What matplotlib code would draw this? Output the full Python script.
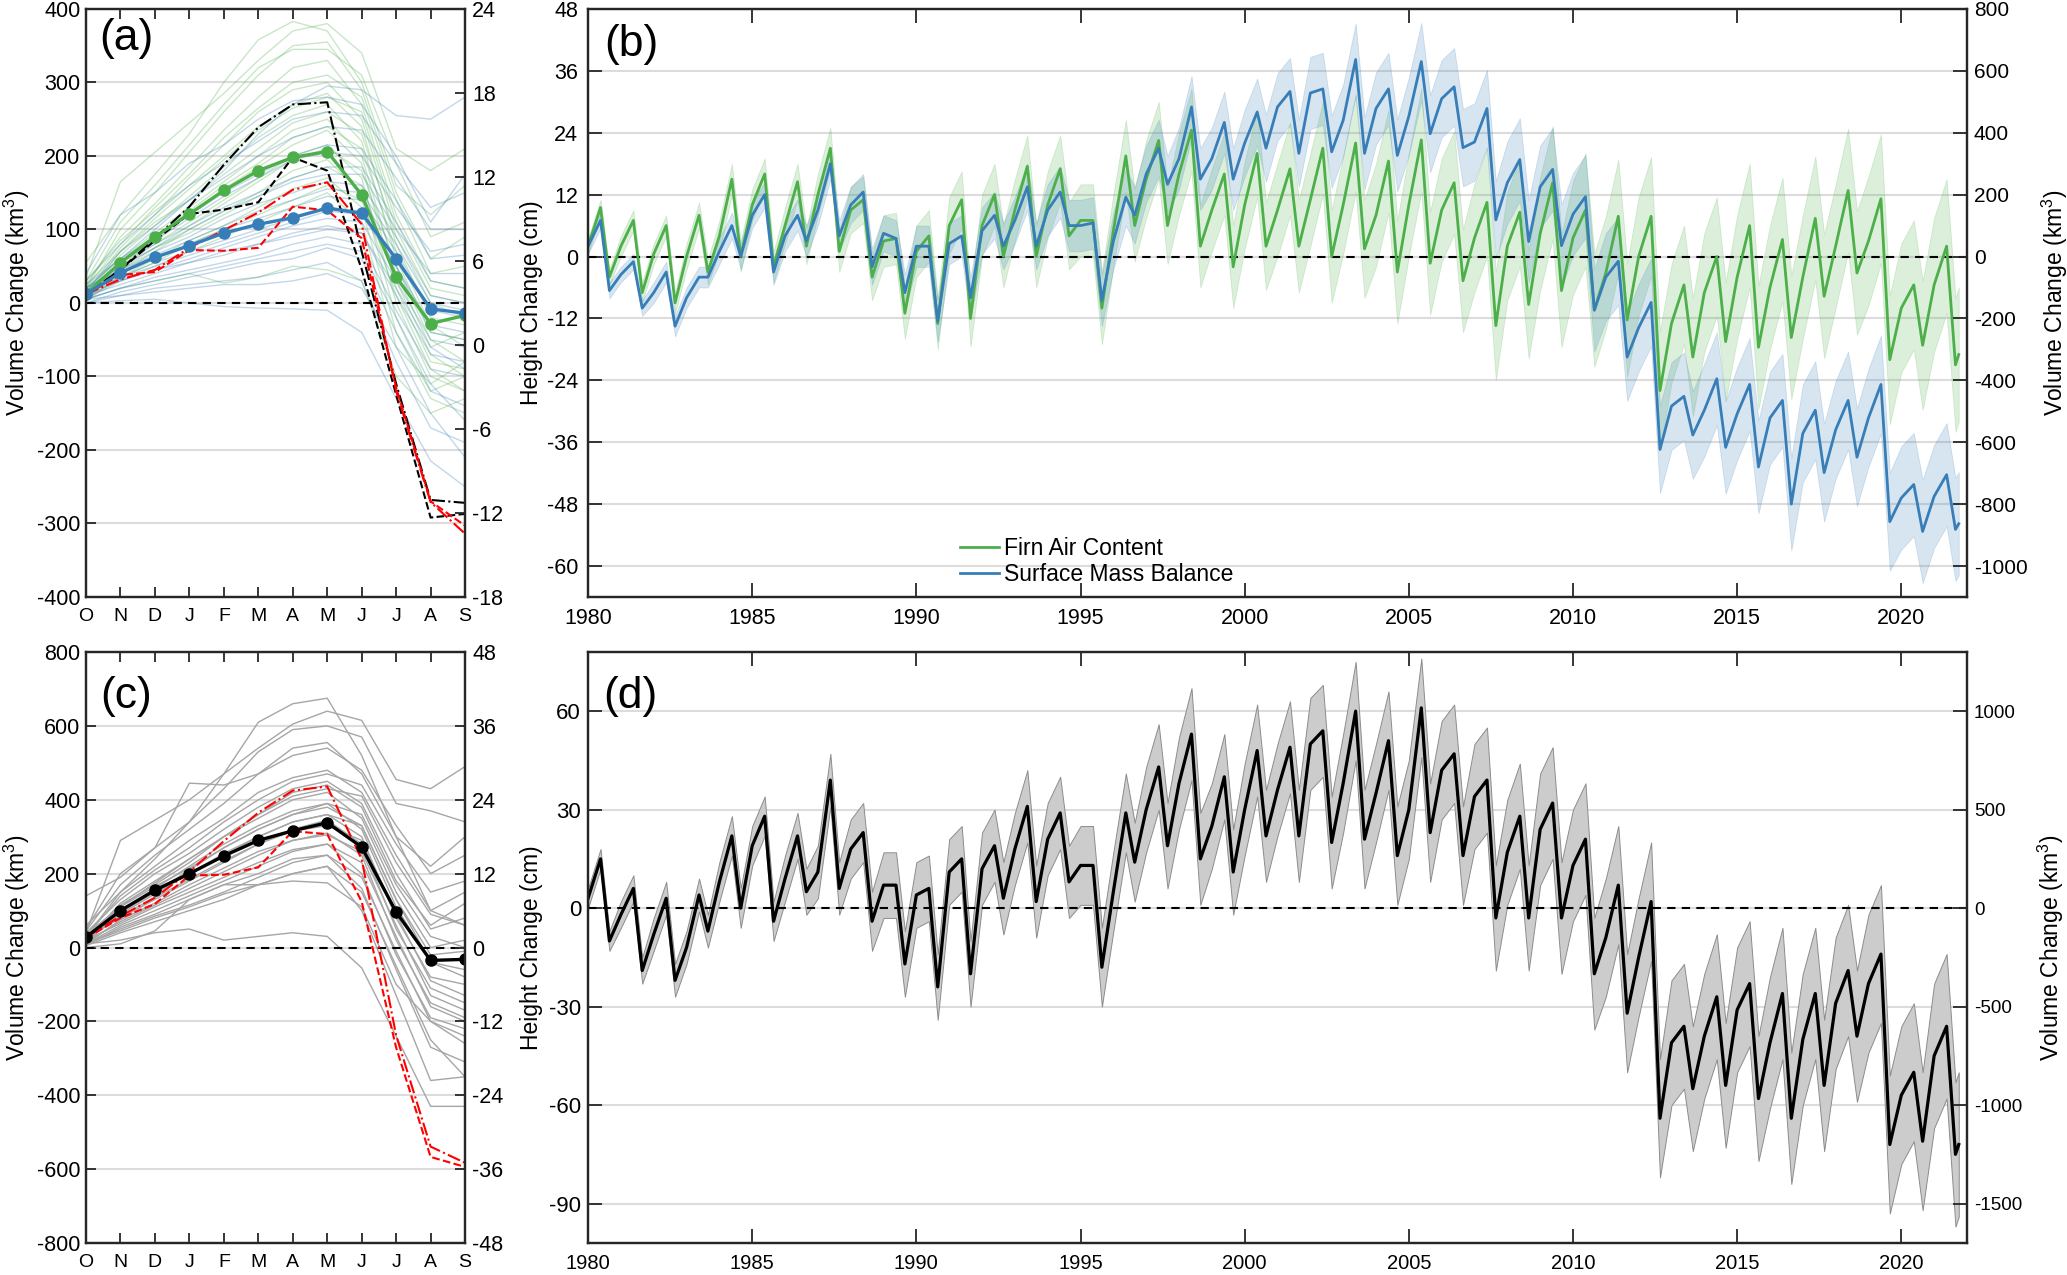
import matplotlib
matplotlib.use("Agg")
import matplotlib.pyplot as plt
import numpy as np

plt.rcParams["font.family"] = ["Liberation Sans", "DejaVu Sans"]
plt.rcParams["mathtext.fontset"] = "custom"
plt.rcParams["mathtext.rm"] = "Liberation Sans"
plt.rcParams["mathtext.it"] = "Liberation Sans:italic"
plt.rcParams["axes.unicode_minus"] = False

GREEN = "#4daf4a"
BLUE = "#377eb8"
SPINE = "#262626"

# ---------------------------------------------------------------
# Monthly climatology panels (a) and (c), km3 since 1 October
# ---------------------------------------------------------------
months = ["O", "N", "D", "J", "F", "M", "A", "M", "J", "J", "A", "S"]

fac_mean = [12, 55, 90, 121, 153, 180, 198, 206, 147, 35, -28, -17]
smb_mean = [12, 41, 62, 78, 95, 107, 116, 129, 122, 60, -8, -14]
a_black_dashdot = [12, 45, 88, 131, 188, 239, 270, 273, 70, -110, -268, -272]
a_black_dashed = [12, 45, 85, 121, 127, 137, 198, 180, 46, -125, -292, -287]
a_red_dashdot = [12, 32, 45, 75, 99, 123, 154, 164, 107, -120, -271, -314]
a_red_dashed = [12, 38, 42, 72, 71, 75, 131, 126, 88, -115, -270, -303]

fac_years = [
    [35, 165, 205, 245, 285, 330, 370, 380, 340, 210, 180, 210],
    [55, 120, 175, 230, 300, 358, 383, 370, 300, 160, 120, 160],
    [20, 100, 150, 205, 260, 310, 350, 355, 290, 150, 60, 90],
    [30, 110, 160, 215, 270, 320, 345, 345, 310, 190, 90, 110],
    [25, 90, 135, 185, 235, 280, 320, 330, 270, 120, 30, 20],
    [20, 80, 130, 175, 225, 265, 300, 310, 280, 140, 40, 50],
    [15, 75, 120, 170, 215, 260, 290, 300, 250, 100, 10, 0],
    [10, 70, 115, 155, 195, 235, 265, 280, 260, 110, 20, 10],
    [30, 85, 125, 160, 200, 240, 270, 285, 240, 80, -20, -30],
    [25, 70, 110, 140, 175, 210, 245, 260, 230, 90, 0, -20],
    [10, 65, 105, 145, 185, 225, 255, 270, 220, 60, -40, -50],
    [20, 60, 95, 130, 165, 200, 235, 250, 200, 40, -60, -40],
    [15, 55, 90, 125, 160, 190, 225, 240, 210, 70, -30, -60],
    [5, 50, 85, 120, 155, 185, 215, 235, 190, 20, -80, -90],
    [5, 45, 75, 105, 135, 165, 195, 210, 180, 50, -50, -80],
    [15, 55, 80, 110, 140, 170, 200, 215, 170, 0, -100, -120],
    [20, 50, 75, 95, 120, 145, 170, 185, 160, 30, -70, -100],
    [10, 40, 70, 100, 125, 150, 180, 195, 150, -20, -120, -100],
    [10, 35, 55, 80, 100, 120, 140, 160, 140, 10, -90, -120],
    [5, 35, 60, 85, 105, 130, 155, 170, 130, -40, -130, -150],
    [10, 30, 50, 70, 90, 110, 130, 150, 110, -60, -110, -80],
    [5, 20, 30, 40, 27, 35, 50, 45, 30, -100, -150, -130],
]

smb_years = [
    [20, 60, 100, 140, 180, 230, 270, 295, 290, 255, 250, 280],
    [40, 120, 150, 190, 215, 250, 275, 280, 270, 200, 110, 175],
    [30, 80, 120, 160, 190, 220, 250, 260, 255, 190, 130, 150],
    [15, 70, 105, 140, 170, 200, 225, 240, 235, 170, 100, 100],
    [25, 60, 90, 120, 150, 175, 200, 215, 210, 140, 60, 65],
    [15, 55, 85, 115, 145, 170, 195, 205, 200, 130, 70, 80],
    [10, 50, 80, 105, 130, 150, 170, 185, 185, 110, 30, 20],
    [20, 50, 75, 100, 125, 145, 165, 175, 175, 100, 40, 40],
    [20, 45, 70, 90, 115, 135, 150, 165, 160, 90, 10, 0],
    [10, 45, 65, 85, 105, 125, 140, 155, 150, 80, 0, -10],
    [10, 40, 60, 80, 100, 115, 130, 145, 140, 70, -10, -20],
    [15, 35, 55, 70, 85, 100, 115, 130, 125, 50, -30, -40],
    [5, 35, 50, 65, 80, 95, 110, 125, 120, 50, -40, -50],
    [5, 30, 45, 60, 75, 90, 105, 115, 110, 30, -50, -60],
    [10, 25, 40, 55, 65, 80, 95, 105, 95, 10, -70, -80],
    [15, 30, 45, 55, 70, 80, 90, 100, 95, 20, -60, -90],
    [5, 20, 35, 45, 55, 65, 80, 90, 80, -10, -90, -100],
    [5, 20, 30, 40, 50, 60, 70, 80, 70, -20, -110, -160],
    [0, 15, 25, 35, 45, 55, 60, 75, 60, -40, -120, -140],
    [5, 10, 20, 25, 30, 35, 45, 55, 30, -80, -170, -190],
    [0, 10, 15, 20, 25, 25, 30, 40, 20, -60, -150, -210],
    [0, 3, 5, 0, -5, -7, -8, -10, -40, -130, -215, -250],
]

tot_mean = [28, 100, 155, 200, 248, 290, 316, 338, 272, 96, -35, -32]
c_red_dashdot = [28, 85, 135, 205, 288, 365, 425, 436, 239, -238, -539, -583]
c_red_dashed = [25, 80, 118, 195, 197, 217, 315, 307, 124, -271, -567, -594]

tot_years = [
    [60, 150, 240, 340, 470, 610, 660, 675, 520, 300, 100, 60],
    [40, 290, 345, 400, 470, 540, 605, 640, 615, 455, 430, 490],
    [50, 200, 270, 340, 430, 530, 590, 600, 570, 390, 370, 340],
    [140, 190, 270, 445, 440, 470, 540, 555, 470, 300, 220, 300],
    [45, 170, 250, 320, 390, 470, 520, 540, 480, 330, 200, 250],
    [30, 150, 220, 290, 350, 420, 460, 480, 420, 250, 100, 150],
    [30, 140, 210, 270, 340, 400, 450, 470, 440, 280, 150, 180],
    [40, 130, 200, 255, 320, 380, 430, 450, 390, 200, 50, 80],
    [35, 110, 175, 240, 300, 360, 420, 440, 380, 180, 60, 120],
    [20, 120, 180, 240, 300, 360, 410, 430, 410, 230, 90, 60],
    [20, 115, 170, 230, 300, 350, 400, 420, 350, 150, 0, 20],
    [35, 110, 165, 215, 270, 320, 360, 390, 360, 170, 30, 0],
    [30, 100, 160, 220, 280, 330, 370, 390, 320, 110, -40, -60],
    [20, 95, 150, 210, 270, 320, 360, 380, 330, 130, -20, -10],
    [20, 90, 145, 200, 255, 300, 340, 360, 300, 80, -80, -100],
    [15, 95, 150, 200, 250, 300, 340, 360, 330, 130, -40, -80],
    [25, 80, 130, 180, 230, 280, 320, 345, 280, 50, -110, -150],
    [25, 85, 135, 185, 235, 280, 315, 330, 290, 90, -90, -130],
    [15, 70, 115, 160, 205, 250, 290, 310, 250, 20, -150, -190],
    [10, 75, 120, 170, 215, 260, 290, 305, 260, 60, -130, -170],
    [10, 60, 100, 140, 180, 220, 260, 280, 200, -20, -190, -220],
    [20, 65, 110, 150, 190, 230, 265, 280, 230, 30, -160, -200],
    [10, 50, 85, 115, 150, 190, 230, 250, 160, -60, -270, -310],
    [5, 55, 90, 130, 170, 200, 240, 250, 190, -10, -200, -260],
    [5, 40, 70, 100, 130, 170, 200, 220, 100, -130, -360, -350],
    [10, 45, 80, 110, 145, 170, 200, 220, 150, -50, -250, -350],
    [10, 20, 40, 50, 20, 30, 40, 30, -55, -240, -430, -430],
    [0, 10, 45, 130, 170, 170, 180, 175, 110, -100, -200, -240],
]

# ---------------------------------------------------------------
# Time series panels (b) and (d), cm; read as Jan / spring peak /
# late-summer minimum for every year 1980-2021
# ---------------------------------------------------------------
hydro_years = list(range(1980, 2022))
JAN_T, PEAK_T, LOW_T = 0.0, 0.38, 0.65
END_T = 2021.75

fac_jan = [2, 2, 0.5, 0, 4, 10, 6, 12, 9, 3, 1, 6, 6, 9, 10, 7, 5, 15, 16, 9, 10,
           9, 11, 10, 8, 10, 9, 3.6, 2, 4.4, 3.6, -3.2, 0, -13, -7, -4, -6, -4, 2, 3, -10, -5.5]
fac_peak = [9.5, 7, 6, 8, 15, 16, 14.5, 21, 11, 3.5, 4, 11, 12, 17.5, 17, 7, 19.5, 22.5, 24.5, 16, 20,
            17, 21, 22, 18.5, 22.6, 14.3, 10.5, 8.6, 14.3, 9, 7.8, 7.8, -5.5, 0, 6, 3.3, 7.4, 12.8, 11.2, -5.5, 2]
fac_low = [-4, -7, -9, -3, 0, -2, 2, 1, -4, -11, -13, -12, 0, 0, 4, -10, 6, 6, 2, -2, 2,
           2, 0, 1.5, -3, -1.3, -4.7, -13.4, -9.3, -6.6, -10.4, -12.3, -26, -19.5, -16.5, -17.6, -15.7, -7.7, -3.2, -20, -17.2, -21]
fac_end = -19
fac_err = [1.5, 2, 2, 2.5, 3, 3, 3.5, 4, 4.5, 5, 5, 5.5, 6, 6, 6.5, 7, 7, 7.5, 8, 8, 8.5,
           9, 9, 9.5, 10, 10, 10, 10.5, 10.5, 11, 11, 11, 11.5, 11.5, 11.5, 12, 12, 12, 12, 12.5, 12.5, 13]

smb_jan = [2, -3.5, -7, -8, 1, 8, 4, 9, 10, 4.5, 2, 2.5, 5, 7, 9, 6, 3, 16, 19, 19, 22,
           29, 31.7, 26.4, 28.7, 27.2, 30.6, 22.2, 14.3, 13.5, 8.2, -4, -13.8, -29, -29.8, -30.5, -31.3, -34.3, -33.6, -31.3, -46.8, -46.5]
smb_peak = [7, -1, -3, -4, 6, 12, 8, 18, 12.5, 3.5, 2, 4, 8, 13.5, 12.5, 6.5, 11.5, 21, 29, 26, 28,
            32, 32.5, 38.2, 32.5, 37.8, 32.9, 28.7, 18.8, 16.9, 11.6, -0.9, -8.9, -27.1, -23.7, -24.8, -27.9, -29.8, -27.9, -24.8, -44.2, -42.3]
smb_low = [-6.6, -10, -13.5, -4, 0, -3, 3, 4, -2, -7, -12.5, -8, 2, 2, 6, -8.5, 8, 14, 15, 15, 21,
           20, 20.3, 20, 19.6, 23.8, 21.1, 7.1, 2.9, 2.1, -10.4, -19.5, -37.4, -34.6, -37, -40.8, -48, -41.9, -38.9, -51.4, -53.3, -52.9]
smb_end = -51.8
smb_err = [1.5, 1.5, 2, 2, 2.5, 2.5, 3, 3, 3.5, 3.5, 4, 4, 4.5, 4.5, 5, 5, 5.5, 5.5, 6, 6, 6.5,
           6.5, 7, 7, 7, 7.5, 7.5, 7.5, 8, 8, 8, 8.5, 8.5, 8.5, 9, 9, 9, 9.5, 9.5, 9.5, 10, 10]

tot_jan = [3, -2, -8, -12, 8, 19, 9, 11, 18, 7, 4, 11, 12, 18, 21, 13, 5, 30, 38, 25, 30,
           36, 50, 38, 35, 30, 42, 34, 17, 24, 13, -9, -15, -41, -39, -31, -41, -40, -29, -23, -57, -45]
tot_peak = [15, 6, 3, 4, 22, 28, 22, 39, 23, 7, 6, 15, 19, 31, 29, 13, 29, 43, 53, 40, 48,
            49, 54, 60, 51, 61, 47, 39, 28, 32, 21, 7, 2, -36, -27, -23, -26, -26, -19, -14, -50, -36]
tot_low = [-10, -19, -22, -7, 0, -4, 5, 6, -4, -17, -24, -20, 3, 2, 8, -18, 14, 19, 15, 11, 22,
           22, 20, 21, 16, 23, 16, -3, -3, -3, -20, -32, -64, -55, -54, -58, -64, -54, -39, -72, -71, -75]
tot_end = -72
tot_err = [3, 4, 5, 5, 6, 6, 7, 8, 9, 10, 10, 10, 11, 11, 11, 12, 12, 13, 14, 13, 14,
           14, 14, 15, 15, 15, 15, 16, 16, 17, 17, 18, 18, 19, 19, 19, 20, 20, 20, 21, 21, 22]


def build_series(jan, peak, low, end, err):
    t, v, e = [], [], []
    for i, yr in enumerate(hydro_years):
        t += [yr + JAN_T, yr + PEAK_T, yr + LOW_T]
        v += [jan[i], peak[i], low[i]]
        e += [err[i]] * 3
    t.append(END_T)
    v.append(end)
    e.append(err[-1])
    return np.array(t), np.array(v), np.array(e)


def style_axes(ax, tick_len, xsize, ysize, ypad):
    ax.tick_params(axis="both", direction="in", length=tick_len, width=1.3, color=SPINE)
    ax.tick_params(axis="x", top=True, bottom=True, labelsize=xsize, pad=8)
    ax.tick_params(axis="y", left=True, right=False, labelsize=ysize, pad=ypad)
    for s in ax.spines.values():
        s.set_linewidth(1.6)
        s.set_color(SPINE)
    ax.yaxis.grid(True, color="#dcdcdc", lw=1.5)
    ax.set_axisbelow(True)


def right_axis(ax, lim, ticks, tick_len, size):
    ax2 = ax.twinx()
    ax2.set_ylim(*lim)
    ax2.set_yticks(ticks)
    ax2.set_yticklabels([str(v) for v in ticks])
    ax2.tick_params(axis="y", direction="in", length=tick_len, width=1.3, color=SPINE,
                    labelsize=size, pad=5)
    for s in ax2.spines.values():
        s.set_linewidth(1.6)
        s.set_color(SPINE)
    return ax2


fig = plt.figure(figsize=(20.67, 12.75), dpi=100)
ax_a = fig.add_axes([0.0416, 0.5318, 0.1834, 0.4612])
ax_b = fig.add_axes([0.2845, 0.5318, 0.6671, 0.4612])
ax_c = fig.add_axes([0.0416, 0.0251, 0.1834, 0.4635])
ax_d = fig.add_axes([0.2845, 0.0251, 0.6671, 0.4635])

mx = np.arange(len(months))

# ---- (a)
for row in fac_years:
    ax_a.plot(mx, row, color=GREEN, alpha=0.3, lw=1.0)
for row in smb_years:
    ax_a.plot(mx, row, color=BLUE, alpha=0.3, lw=1.0)
ax_a.axhline(0, color="k", ls="--", lw=1.5, dashes=(4, 3))
ax_a.plot(mx, a_black_dashdot, color="k", ls="-.", lw=1.5)
ax_a.plot(mx, a_black_dashed, color="k", ls="--", lw=1.5)
ax_a.plot(mx, a_red_dashdot, color="red", ls="-.", lw=1.5)
ax_a.plot(mx, a_red_dashed, color="red", ls="--", lw=1.5)
ax_a.plot(mx, fac_mean, color=GREEN, lw=2.4, marker="o", ms=8)
ax_a.plot(mx, smb_mean, color=BLUE, lw=2.4, marker="o", ms=8)
ax_a.set_xlim(0, 11)
ax_a.set_ylim(-400, 400)
ticks_a = list(range(-400, 401, 100))
ax_a.set_yticks(ticks_a)
ax_a.set_yticklabels([str(v) for v in ticks_a])
ax_a.set_xticks(mx)
ax_a.set_xticklabels(months)
style_axes(ax_a, 7, 14, 15.5, 4)
ax_a.set_ylabel("Volume Change (km$^3$)", fontsize=16.5)
ax_a.yaxis.set_label_coords(-0.142, 0.5)
right_axis(ax_a, (-18, 24), list(range(-18, 25, 6)), 7, 15.5)
ax_a.text(0.035, 0.985, "(a)", transform=ax_a.transAxes, fontsize=32, va="top")

# ---- (b)
t, fac_v, fac_e = build_series(fac_jan, fac_peak, fac_low, fac_end, fac_err)
_, smb_v, smb_e = build_series(smb_jan, smb_peak, smb_low, smb_end, smb_err)
ax_b.fill_between(t, fac_v - fac_e, fac_v + fac_e, facecolor=GREEN, alpha=0.2,
                  edgecolor=GREEN, lw=0.6)
ax_b.fill_between(t, smb_v - smb_e, smb_v + smb_e, facecolor=BLUE, alpha=0.2,
                  edgecolor=BLUE, lw=0.6)
ax_b.axhline(0, color="k", ls="--", lw=1.5, dashes=(4, 3))
ax_b.plot(t, fac_v, color=GREEN, lw=2.0, label="Firn Air Content")
ax_b.plot(t, smb_v, color=BLUE, lw=2.0, label="Surface Mass Balance")
ax_b.set_xlim(1980, 2022)
ax_b.set_ylim(-66, 48)
ticks_b = list(range(-60, 49, 12))
ax_b.set_yticks(ticks_b)
ax_b.set_yticklabels([str(v) for v in ticks_b])
year_ticks = list(range(1980, 2021, 5))
ax_b.set_xticks(year_ticks)
ax_b.set_xticklabels([str(y) for y in year_ticks])
style_axes(ax_b, 10, 15.5, 15.5, 7)
ax_b.set_ylabel("Height Change (cm)", fontsize=16.5)
ax_b.yaxis.set_label_coords(-0.033, 0.5)
rb = right_axis(ax_b, (-1100, 800), list(range(-1000, 801, 200)), 10, 15)
rb.set_ylabel("Volume Change (km$^3$)", fontsize=16.5)
rb.yaxis.set_label_coords(1.053, 0.5)
ax_b.text(0.012, 0.975, "(b)", transform=ax_b.transAxes, fontsize=32, va="top")
ax_b.legend(loc="lower left", bbox_to_anchor=(0.27, 0.018), frameon=False, fontsize=16.5,
            handlelength=1.7, handletextpad=0.2, labelspacing=0.15, borderpad=0,
            borderaxespad=0)

# ---- (c)
for row in tot_years:
    ax_c.plot(mx, row, color="#a6a6a6", lw=1.0)
ax_c.axhline(0, color="k", ls="--", lw=1.5, dashes=(4, 3))
ax_c.plot(mx, c_red_dashdot, color="red", ls="-.", lw=1.5)
ax_c.plot(mx, c_red_dashed, color="red", ls="--", lw=1.5)
ax_c.plot(mx, tot_mean, color="k", lw=2.4, marker="o", ms=8)
ax_c.set_xlim(0, 11)
ax_c.set_ylim(-800, 800)
ticks_c = list(range(-800, 801, 200))
ax_c.set_yticks(ticks_c)
ax_c.set_yticklabels([str(v) for v in ticks_c])
ax_c.set_xticks(mx)
ax_c.set_xticklabels(months)
style_axes(ax_c, 7, 14, 15.5, 4)
ax_c.set_ylabel("Volume Change (km$^3$)", fontsize=16.5)
ax_c.yaxis.set_label_coords(-0.142, 0.5)
right_axis(ax_c, (-48, 48), list(range(-48, 49, 12)), 7, 15.5)
ax_c.text(0.037, 0.96, "(c)", transform=ax_c.transAxes, fontsize=32, va="top")

# ---- (d)
t, tot_v, tot_e = build_series(tot_jan, tot_peak, tot_low, tot_end, tot_err)
ax_d.fill_between(t, tot_v - tot_e, tot_v + tot_e, facecolor="#cccccc",
                  edgecolor="#8c8c8c", lw=0.7)
ax_d.axhline(0, color="k", ls="--", lw=1.5, dashes=(4, 3))
ax_d.plot(t, tot_v, color="k", lw=2.3)
ax_d.set_xlim(1980, 2022)
ax_d.set_ylim(-102, 78)
ticks_d = list(range(-90, 61, 30))
ax_d.set_yticks(ticks_d)
ax_d.set_yticklabels([str(v) for v in ticks_d])
ax_d.set_xticks(year_ticks)
ax_d.set_xticklabels([str(y) for y in year_ticks])
style_axes(ax_d, 10, 14.5, 16, 5)
ax_d.set_ylabel("Height Change (cm)", fontsize=16.5)
ax_d.yaxis.set_label_coords(-0.033, 0.5)
rd = right_axis(ax_d, (-1700, 1300), list(range(-1500, 1001, 500)), 10, 13.5)
rd.set_ylabel("Volume Change (km$^3$)", fontsize=16.5)
rd.yaxis.set_label_coords(1.05, 0.5)
ax_d.text(0.011, 0.96, "(d)", transform=ax_d.transAxes, fontsize=32, va="top")

fig.savefig("out.png", dpi=100)
